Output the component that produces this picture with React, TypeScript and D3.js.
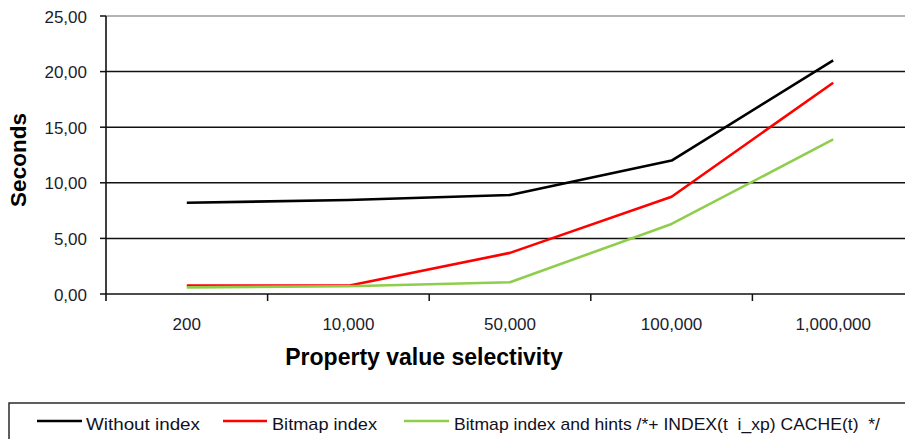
import React from "react";
import * as d3 from "d3";

const categories = ["200", "10,000", "50,000", "100,000", "1,000,000"];
const withoutIndex = [8.2, 8.45, 8.9, 12.0, 21.0];
const bitmapIndex = [0.75, 0.75, 3.7, 8.75, 19.0];
const bitmapHints = [0.6, 0.7, 1.05, 6.3, 13.9];
const yTicks = [0, 5, 10, 15, 20, 25];

const seriesList = [
  { name: "Without index", values: withoutIndex, color: "#000000" },
  { name: "Bitmap index", values: bitmapIndex, color: "#ff0000" },
  { name: "Bitmap index and hints /*+ INDEX(t  i_xp) CACHE(t)  */", values: bitmapHints, color: "#8fce4c" },
];

const W = 905;
const H = 439;
const plot = { left: 106, right: 914, top: 16, bottom: 294 };
const font = "Arial, 'Liberation Sans', sans-serif";

export default function App() {
  const x = d3
    .scaleBand<string>()
    .domain(categories)
    .range([plot.left, plot.right])
    .paddingInner(0)
    .paddingOuter(0);
  const y = d3.scaleLinear().domain([0, 25]).range([plot.bottom, plot.top]);
  const cx = (c: string) => (x(c) as number) + x.bandwidth() / 2;

  const line = d3
    .line<number>()
    .x((_, i) => cx(categories[i]))
    .y((v) => y(v));

  const fmt = (v: number) => v.toFixed(2).replace(".", ",");

  const legendItems = [
    { x1: 37, x2: 82, tx: 86, tl: 114 },
    { x1: 223, x2: 267, tx: 272, tl: 105 },
    { x1: 404, x2: 449, tx: 454, tl: 426 },
  ];

  return (
    <svg
      width={W}
      height={H}
      style={{ position: "absolute", left: 0, top: 0, background: "#fff" }}
      fontFamily={font}
    >
      {/* horizontal gridlines */}
      {yTicks.map((t) => (
        <line
          key={"g" + t}
          x1={plot.left}
          x2={plot.right}
          y1={y(t)}
          y2={y(t)}
          stroke={t === 25 ? "#9a9a9a" : "#111"}
          strokeWidth={1.5}
        />
      ))}
      {/* y axis */}
      <line x1={plot.left} x2={plot.left} y1={plot.top} y2={plot.bottom + 7} stroke="#111" strokeWidth={1.6} />
      {yTicks.map((t) => (
        <g key={"yt" + t}>
          <line x1={plot.left - 6} x2={plot.left} y1={y(t)} y2={y(t)} stroke="#111" strokeWidth={1.5} />
          <text x={87} y={y(t) + 6.5} textAnchor="end" fontSize={17} fill="#1c1c2c">
            {fmt(t)}
          </text>
        </g>
      ))}
      {/* x axis ticks and labels */}
      {categories.map((c, i) => (
        <g key={"xt" + c}>
          {i > 0 && (
            <line
              x1={x(c) as number}
              x2={x(c) as number}
              y1={plot.bottom}
              y2={plot.bottom + 7}
              stroke="#111"
              strokeWidth={1.5}
            />
          )}
          <text x={cx(c)} y={330} textAnchor="middle" fontSize={17} fill="#1c1c2c">
            {c}
          </text>
        </g>
      ))}
      {/* series */}
      {seriesList.map((s) => (
        <path key={s.name} d={line(s.values) as string} fill="none" stroke={s.color} strokeWidth={2.6} strokeLinejoin="round" />
      ))}
      {/* axis titles */}
      <text x={424} y={365} textAnchor="middle" fontSize={23} fontWeight="bold" fill="#000">
        Property value selectivity
      </text>
      <text
        transform="translate(26,160) rotate(-90)"
        textAnchor="middle"
        fontSize={22.5}
        fontWeight="bold"
        fill="#000"
      >
        Seconds
      </text>
      {/* legend */}
      <rect x={9} y={403} width={W + 10} height={60} fill="#fff" stroke="#2a2a2a" strokeWidth={1.5} />
      {seriesList.map((s, i) => {
        const li = legendItems[i];
        return (
          <g key={"lg" + i}>
            <line x1={li.x1} x2={li.x2} y1={421} y2={421} stroke={s.color} strokeWidth={2.6} />
            <text
              x={li.tx}
              y={430}
              fontSize={17}
              fill="#111122"
              textLength={li.tl}
              lengthAdjust="spacingAndGlyphs"
              style={{ whiteSpace: "pre" }}
            >
              {s.name}
            </text>
          </g>
        );
      })}
    </svg>
  );
}
